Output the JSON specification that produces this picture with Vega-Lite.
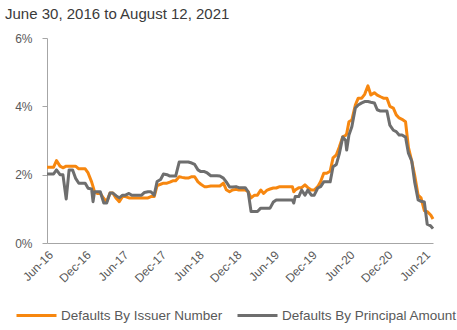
{
  "$schema": "https://vega.github.io/schema/vega-lite/v6.json",
  "width": 386,
  "height": 205,
  "autosize": {"type": "none"},
  "padding": {"left": 47, "top": 38, "right": 24, "bottom": 87},
  "background": "white",
  "title": {
    "text": "June 30, 2016 to August 12, 2021",
    "anchor": "start",
    "frame": "group",
    "dx": -42,
    "offset": 10,
    "font": "Liberation Sans",
    "fontSize": 15,
    "fontWeight": "normal",
    "color": "#3A3A3A"
  },
  "data": {
    "values": [
      {"d": "2016-06-30", "issuer": 2.22, "principal": 2.02},
      {"d": "2016-07-15", "issuer": 2.22, "principal": 2.02},
      {"d": "2016-08-01", "issuer": 2.22, "principal": 2.02},
      {"d": "2016-08-15", "issuer": 2.41, "principal": 2.14},
      {"d": "2016-09-01", "issuer": 2.25, "principal": 2.0},
      {"d": "2016-09-15", "issuer": 2.2, "principal": 2.0},
      {"d": "2016-10-01", "issuer": 2.25, "principal": 1.29},
      {"d": "2016-10-15", "issuer": 2.25, "principal": 2.14},
      {"d": "2016-11-01", "issuer": 2.25, "principal": 2.14},
      {"d": "2016-11-15", "issuer": 2.25, "principal": 1.9},
      {"d": "2016-12-01", "issuer": 2.17, "principal": 1.75},
      {"d": "2016-12-15", "issuer": 2.17, "principal": 1.75},
      {"d": "2017-01-01", "issuer": 2.17, "principal": 1.75},
      {"d": "2017-01-15", "issuer": 2.05, "principal": 1.6},
      {"d": "2017-02-01", "issuer": 1.79, "principal": 1.58},
      {"d": "2017-02-08", "issuer": 1.65, "principal": 1.21},
      {"d": "2017-02-15", "issuer": 1.5, "principal": 1.5},
      {"d": "2017-03-01", "issuer": 1.45, "principal": 1.5},
      {"d": "2017-03-15", "issuer": 1.45, "principal": 1.5},
      {"d": "2017-04-01", "issuer": 1.3, "principal": 1.17},
      {"d": "2017-04-15", "issuer": 1.21, "principal": 1.17},
      {"d": "2017-05-01", "issuer": 1.46, "principal": 1.46},
      {"d": "2017-05-15", "issuer": 1.46, "principal": 1.46},
      {"d": "2017-06-01", "issuer": 1.3, "principal": 1.38},
      {"d": "2017-06-15", "issuer": 1.21, "principal": 1.32},
      {"d": "2017-07-01", "issuer": 1.36, "principal": 1.4},
      {"d": "2017-07-15", "issuer": 1.36, "principal": 1.4},
      {"d": "2017-08-01", "issuer": 1.32, "principal": 1.45},
      {"d": "2017-08-15", "issuer": 1.32, "principal": 1.4},
      {"d": "2017-09-01", "issuer": 1.32, "principal": 1.4},
      {"d": "2017-09-15", "issuer": 1.32, "principal": 1.4},
      {"d": "2017-10-01", "issuer": 1.32, "principal": 1.4},
      {"d": "2017-10-15", "issuer": 1.32, "principal": 1.48},
      {"d": "2017-11-01", "issuer": 1.32, "principal": 1.5},
      {"d": "2017-11-15", "issuer": 1.36, "principal": 1.5},
      {"d": "2017-12-01", "issuer": 1.36, "principal": 1.4},
      {"d": "2017-12-15", "issuer": 1.68, "principal": 1.8},
      {"d": "2018-01-01", "issuer": 1.72, "principal": 1.86},
      {"d": "2018-01-15", "issuer": 1.75, "principal": 2.02},
      {"d": "2018-02-01", "issuer": 1.75, "principal": 2.0},
      {"d": "2018-02-15", "issuer": 1.78, "principal": 1.96},
      {"d": "2018-03-01", "issuer": 1.82, "principal": 1.96},
      {"d": "2018-03-15", "issuer": 1.82, "principal": 1.96},
      {"d": "2018-04-01", "issuer": 1.94, "principal": 2.37},
      {"d": "2018-04-15", "issuer": 1.92, "principal": 2.37},
      {"d": "2018-05-01", "issuer": 1.9, "principal": 2.37},
      {"d": "2018-05-15", "issuer": 1.9, "principal": 2.37},
      {"d": "2018-06-01", "issuer": 1.94, "principal": 2.34},
      {"d": "2018-06-15", "issuer": 1.94, "principal": 2.3},
      {"d": "2018-07-01", "issuer": 1.79, "principal": 2.14},
      {"d": "2018-07-15", "issuer": 1.72, "principal": 2.09},
      {"d": "2018-08-01", "issuer": 1.65, "principal": 2.09},
      {"d": "2018-08-15", "issuer": 1.65, "principal": 2.05},
      {"d": "2018-09-01", "issuer": 1.67, "principal": 1.97},
      {"d": "2018-09-15", "issuer": 1.67, "principal": 1.97},
      {"d": "2018-10-01", "issuer": 1.67, "principal": 1.97},
      {"d": "2018-10-15", "issuer": 1.67, "principal": 1.96},
      {"d": "2018-11-01", "issuer": 1.75, "principal": 1.9},
      {"d": "2018-11-15", "issuer": 1.56, "principal": 1.79},
      {"d": "2018-12-01", "issuer": 1.5, "principal": 1.64},
      {"d": "2018-12-15", "issuer": 1.55, "principal": 1.64},
      {"d": "2019-01-01", "issuer": 1.57, "principal": 1.65},
      {"d": "2019-01-15", "issuer": 1.55, "principal": 1.62},
      {"d": "2019-02-01", "issuer": 1.55, "principal": 1.62},
      {"d": "2019-02-15", "issuer": 1.55, "principal": 1.62},
      {"d": "2019-03-01", "issuer": 1.5, "principal": 1.5},
      {"d": "2019-03-15", "issuer": 1.32, "principal": 0.92},
      {"d": "2019-04-01", "issuer": 1.4, "principal": 0.92},
      {"d": "2019-04-15", "issuer": 1.4, "principal": 0.92},
      {"d": "2019-05-01", "issuer": 1.55, "principal": 1.02},
      {"d": "2019-05-15", "issuer": 1.45, "principal": 1.02},
      {"d": "2019-06-01", "issuer": 1.55, "principal": 1.02},
      {"d": "2019-06-15", "issuer": 1.58, "principal": 1.02},
      {"d": "2019-07-01", "issuer": 1.61, "principal": 1.2},
      {"d": "2019-07-15", "issuer": 1.61, "principal": 1.26},
      {"d": "2019-08-01", "issuer": 1.65, "principal": 1.26},
      {"d": "2019-08-15", "issuer": 1.65, "principal": 1.26},
      {"d": "2019-09-01", "issuer": 1.65, "principal": 1.26},
      {"d": "2019-09-15", "issuer": 1.65, "principal": 1.26},
      {"d": "2019-10-01", "issuer": 1.65, "principal": 1.26},
      {"d": "2019-10-08", "issuer": 1.5, "principal": 1.17},
      {"d": "2019-10-15", "issuer": 1.55, "principal": 1.36},
      {"d": "2019-11-01", "issuer": 1.62, "principal": 1.36},
      {"d": "2019-11-15", "issuer": 1.62, "principal": 1.55},
      {"d": "2019-12-01", "issuer": 1.7, "principal": 1.4},
      {"d": "2019-12-15", "issuer": 1.62, "principal": 1.55},
      {"d": "2020-01-01", "issuer": 1.55, "principal": 1.4},
      {"d": "2020-01-15", "issuer": 1.55, "principal": 1.4},
      {"d": "2020-02-01", "issuer": 1.65, "principal": 1.61},
      {"d": "2020-02-15", "issuer": 1.8, "principal": 1.65},
      {"d": "2020-03-01", "issuer": 2.04, "principal": 1.79},
      {"d": "2020-03-15", "issuer": 2.04, "principal": 1.79},
      {"d": "2020-04-01", "issuer": 2.1, "principal": 1.79},
      {"d": "2020-04-15", "issuer": 2.49, "principal": 2.23},
      {"d": "2020-05-01", "issuer": 2.58, "principal": 2.3},
      {"d": "2020-05-15", "issuer": 2.8, "principal": 2.6},
      {"d": "2020-06-01", "issuer": 3.11, "principal": 3.1},
      {"d": "2020-06-15", "issuer": 3.15, "principal": 3.0},
      {"d": "2020-06-20", "issuer": 3.2, "principal": 2.72},
      {"d": "2020-07-01", "issuer": 3.55, "principal": 3.16},
      {"d": "2020-07-15", "issuer": 3.6, "principal": 3.4},
      {"d": "2020-08-01", "issuer": 4.04, "principal": 3.95},
      {"d": "2020-08-15", "issuer": 4.24, "principal": 4.04},
      {"d": "2020-09-01", "issuer": 4.24, "principal": 4.1},
      {"d": "2020-09-15", "issuer": 4.35, "principal": 4.14},
      {"d": "2020-10-01", "issuer": 4.6, "principal": 4.14},
      {"d": "2020-10-15", "issuer": 4.33, "principal": 4.12},
      {"d": "2020-11-01", "issuer": 4.4, "principal": 4.1},
      {"d": "2020-11-15", "issuer": 4.33, "principal": 3.9},
      {"d": "2020-12-01", "issuer": 4.28, "principal": 3.86},
      {"d": "2020-12-15", "issuer": 4.24, "principal": 3.86},
      {"d": "2021-01-01", "issuer": 4.24, "principal": 3.86},
      {"d": "2021-01-15", "issuer": 4.0, "principal": 3.45},
      {"d": "2021-02-01", "issuer": 3.95, "principal": 3.3},
      {"d": "2021-02-15", "issuer": 3.75, "principal": 3.26},
      {"d": "2021-03-01", "issuer": 3.66, "principal": 3.16},
      {"d": "2021-03-15", "issuer": 3.62, "principal": 3.16},
      {"d": "2021-04-01", "issuer": 3.55, "principal": 3.1},
      {"d": "2021-04-15", "issuer": 2.8, "principal": 2.63},
      {"d": "2021-05-01", "issuer": 2.4, "principal": 2.4},
      {"d": "2021-05-15", "issuer": 1.99, "principal": 1.79},
      {"d": "2021-06-01", "issuer": 1.4, "principal": 1.26},
      {"d": "2021-06-15", "issuer": 1.32, "principal": 1.22},
      {"d": "2021-07-01", "issuer": 0.95, "principal": 1.2},
      {"d": "2021-07-15", "issuer": 0.92, "principal": 0.55},
      {"d": "2021-08-01", "issuer": 0.82, "principal": 0.5},
      {"d": "2021-08-12", "issuer": 0.7, "principal": 0.42}
    ]
  },
  "transform": [
    {"fold": ["issuer", "principal"], "as": ["series", "value"]}
  ],
  "mark": {"type": "line", "strokeWidth": 3, "strokeJoin": "round"},
  "encoding": {
    "x": {
      "field": "d",
      "type": "temporal",
      "scale": {"type": "utc", "domain": [{"year": 2016, "month": "jun", "date": 30, "utc": true}, {"year": 2021, "month": "aug", "date": 12, "utc": true}], "nice": false},
      "axis": {
        "title": null,
        "format": "%b-%y",
        "values": [
          {"year": 2016, "month": "jun", "date": 30, "utc": true},
          {"year": 2016, "month": "dec", "date": 30, "utc": true},
          {"year": 2017, "month": "jun", "date": 30, "utc": true},
          {"year": 2017, "month": "dec", "date": 30, "utc": true},
          {"year": 2018, "month": "jun", "date": 30, "utc": true},
          {"year": 2018, "month": "dec", "date": 30, "utc": true},
          {"year": 2019, "month": "jun", "date": 30, "utc": true},
          {"year": 2019, "month": "dec", "date": 30, "utc": true},
          {"year": 2020, "month": "jun", "date": 30, "utc": true},
          {"year": 2020, "month": "dec", "date": 30, "utc": true},
          {"year": 2021, "month": "jun", "date": 30, "utc": true}
        ],
        "labelAngle": -45,
        "ticks": false,
        "grid": false,
        "labelPadding": 6,
        "domainColor": "#A6A6A6",
        "domainWidth": 1,
        "labelColor": "#595959",
        "labelFont": "Liberation Sans",
        "labelFontSize": 12,
        "labelOverlap": false
      }
    },
    "y": {
      "field": "value",
      "type": "quantitative",
      "scale": {"domain": [0, 6], "nice": false},
      "axis": {
        "title": null,
        "values": [0, 2, 4, 6],
        "labelExpr": "datum.value + '%'",
        "grid": false,
        "tickSize": 5,
        "tickColor": "#A6A6A6",
        "domainColor": "#A6A6A6",
        "labelPadding": 10,
        "labelColor": "#595959",
        "labelFont": "Liberation Sans",
        "labelFontSize": 12
      }
    },
    "color": {
      "field": "series",
      "type": "nominal",
      "scale": {"domain": ["issuer", "principal"], "range": ["#F7870F", "#6E6E6E"]},
      "legend": {
        "title": null,
        "orient": "none",
        "direction": "horizontal",
        "legendX": -32,
        "legendY": 256,
        "padding": 0,
        "symbolType": "stroke",
        "symbolSize": 1600,
        "symbolStrokeWidth": 3,
        "labelOffset": 3,
        "columnPadding": 8,
        "labelExpr": "datum.label == 'issuer' ? 'Defaults By Issuer Number' : 'Defaults By Principal Amount'",
        "labelFont": "Liberation Sans",
        "labelFontSize": 13.5,
        "labelColor": "#595959",
        "labelLimit": 300
      }
    }
  },
  "config": {"view": {"stroke": null}}
}
